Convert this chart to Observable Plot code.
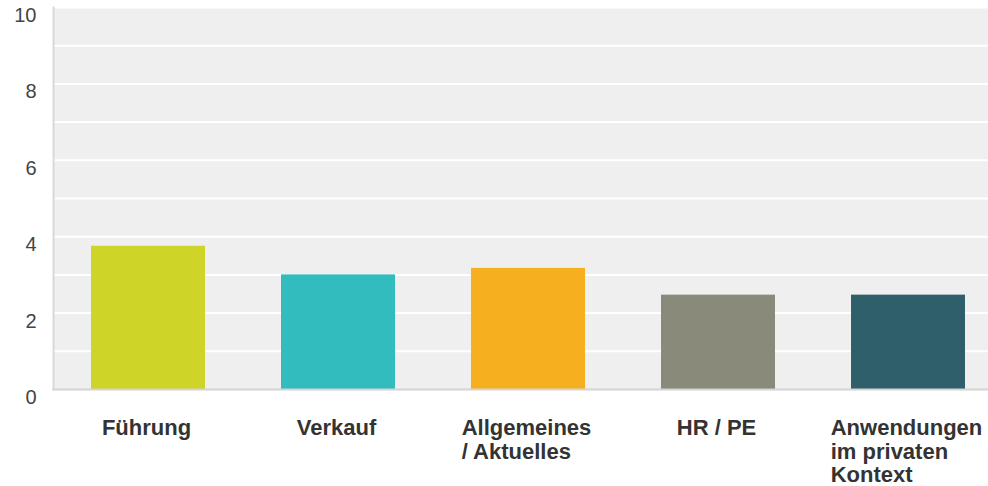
<!DOCTYPE html>
<html><head><meta charset="utf-8">
<script src="https://cdn.jsdelivr.net/npm/d3@7"></script>
<script src="https://cdn.jsdelivr.net/npm/@observablehq/plot@0.6"></script>
<style>body{margin:0;background:#fff}</style></head>
<body><div id="chart"></div>
<script>
const categories = ["Führung", "Verkauf", "Allgemeines\n/ Aktuelles", "HR / PE", "Anwendungen\nim privaten\nKontext"];
const values = [3.75, 3.0, 3.17, 2.47, 2.47];
const colors = ["#CFD428", "#33BCBE", "#F6B01F", "#898A79", "#2E5F6B"];
const yTicks = [0, 2, 4, 6, 8, 10];
const gridValues = [1, 2, 3, 4, 5, 6, 7, 8, 9, 10];

const data = categories.map((c, i) => ({category: c, value: values[i]}));

const labelFont = "bold 22px 'Liberation Sans'";
const ctx = document.createElement("canvas").getContext("2d");
ctx.font = labelFont;
const blockWidth = c => Math.max(...c.split("\n").map(l => ctx.measureText(l).width));

const chart = Plot.plot({
  width: 988, height: 486,
  marginTop: 7, marginBottom: 97, marginLeft: 53, marginRight: 0,
  style: {fontFamily: "'Liberation Sans', Arial, sans-serif", background: "#fff", overflow: "visible"},
  x: {domain: categories, range: [53, 1003], paddingInner: 0.4, paddingOuter: 0.2, axis: null},
  y: {domain: [0, 10], axis: null},
  color: {domain: categories, range: colors},
  marks: [
    Plot.frame({fill: "#efefef", stroke: null}),
    Plot.ruleY(gridValues, {stroke: "#fff", strokeWidth: 2}),
    Plot.barY(data, {x: "category", y: "value", fill: "category"}),
    Plot.frame({anchor: "left", stroke: "#d9d9d9", strokeWidth: 2}),
    Plot.frame({anchor: "bottom", stroke: "#d4d4d4", strokeWidth: 2}),
    Plot.axisY({ticks: yTicks, tickSize: 0, tickPadding: 17, dy: 8, fontSize: 20, fill: "#444", label: null}),
    ...categories.map(c => Plot.text([c], {
      x: d => d, y: 0, text: d => d,
      textAnchor: "start", lineAnchor: "top", dx: -blockWidth(c) / 2 - 2, dy: 28,
      lineHeight: 1.09, fontSize: 22, fontWeight: "bold", fill: "#333"
    }))
  ]
});
document.getElementById("chart").append(chart);
</script>
</body></html>
